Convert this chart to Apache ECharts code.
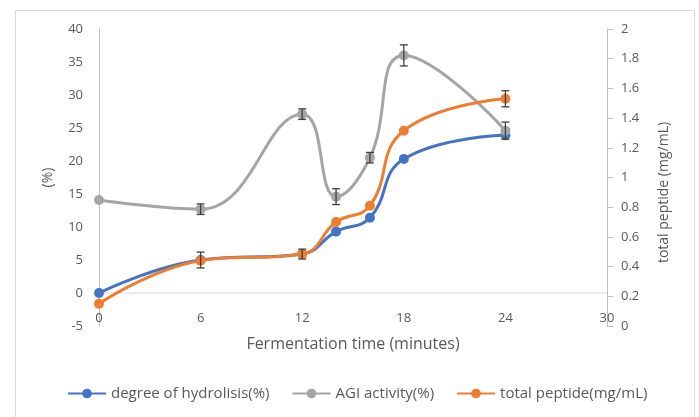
<!DOCTYPE html>
<html>
<head>
<meta charset="utf-8">
<script src="https://cdn.jsdelivr.net/npm/echarts@6/dist/echarts.min.js"></script>
<style>
html,body{margin:0;padding:0;background:#fff;}
#chart{width:699px;height:417px;}
</style>
</head>
<body>
<div id="chart"></div>
<script>
// ---- data ----
var time = [0, 6, 12, 14, 16, 18, 24];
var hydrolysis = [0, 5.0, 5.9, 9.3, 11.4, 20.3, 23.9];
var agi = [14.1, 12.7, 27.1, 14.6, 20.5, 36.0, 24.6];
var peptide = [0.15, 0.44, 0.485, 0.70, 0.81, 1.315, 1.53];
var hydrolysisErr = [0, 1.2, 0.75, 0, 0, 0, 0];
var agiErr = [0, 0.8, 0.8, 1.2, 0.8, 1.6, 1.3];
var peptideErr = [0, 0, 0, 0, 0, 0, 0.054];
var xTicks = [0, 6, 12, 18, 24, 30];
var zeroLine = [[0, 0], [30, 0]];
var seriesNames = ['degree of hydrolisis(%)', 'AGI activity(%)', 'total peptide(mg/mL)'];

var FONT = 'Open Sans';
var TXT = '#595959';

function pairs(xs, ys) { return xs.map(function (x, i) { return [x, ys[i]]; }); }
function errData(xs, ys, es) {
  var out = [];
  xs.forEach(function (x, i) { if (es[i] > 0) out.push([x, ys[i], es[i]]); });
  return out;
}
function errSeries(data, yIdx) {
  return {
    type: 'custom', yAxisIndex: yIdx, z: 10, silent: true,
    data: data,
    renderItem: function (params, api) {
      var x = api.value(0), y = api.value(1), e = api.value(2);
      var top = api.coord([x, y + e]);
      var bot = api.coord([x, y - e]);
      var w = 4;
      var st = { stroke: '#404040', lineWidth: 1.3 };
      return {
        type: 'group',
        children: [
          { type: 'line', shape: { x1: top[0], y1: top[1], x2: bot[0], y2: bot[1] }, style: st },
          { type: 'line', shape: { x1: top[0] - w, y1: top[1], x2: top[0] + w, y2: top[1] }, style: st },
          { type: 'line', shape: { x1: bot[0] - w, y1: bot[1], x2: bot[0] + w, y2: bot[1] }, style: st }
        ]
      };
    }
  };
}
function lineSeries(name, data, color, yIdx, z) {
  return {
    name: name, type: 'line', yAxisIndex: yIdx, data: data, smooth: 0.45,
    symbol: 'circle', symbolSize: 10, z: z,
    lineStyle: { color: color, width: 3 },
    itemStyle: { color: color },
    emphasis: { disabled: true }
  };
}

var chart = echarts.init(document.getElementById('chart'), null, { renderer: 'canvas' });
chart.setOption({
  backgroundColor: '#fff',
  animation: false,
  textStyle: { fontFamily: FONT },
  graphic: [{
    type: 'rect', left: 13, top: 8, shape: { width: 679, height: 430 },
    style: { fill: 'none', stroke: '#d9d9d9', lineWidth: 1 }, z: -1
  }],
  grid: { left: 99, right: 92, top: 29, bottom: 91 },
  legend: {
    left: 62, top: 381, itemWidth: 38, itemHeight: 12, itemGap: 22,
    textStyle: { color: TXT, fontSize: 15, fontFamily: FONT },
    data: seriesNames
  },
  xAxis: {
    type: 'value', min: 0, max: 30, interval: 6,
    name: 'Fermentation time (minutes)', nameLocation: 'middle', nameGap: 10,
    nameTextStyle: { color: TXT, fontSize: 16, fontFamily: FONT },
    axisLine: { show: false, onZero: false },
    axisTick: { show: false },
    axisLabel: { color: TXT, fontSize: 13, margin: -14, fontFamily: FONT,
      formatter: function (v) { return xTicks.indexOf(v) >= 0 ? String(v) : ''; } },
    splitLine: { show: false }
  },
  yAxis: [{
    type: 'value', min: -5, max: 40, interval: 5,
    name: '(%)', nameLocation: 'middle', nameGap: 44, nameRotate: 90,
    nameTextStyle: { color: TXT, fontSize: 14, fontFamily: FONT },
    axisLine: { show: true, onZero: false, lineStyle: { color: '#bfbfbf', width: 1 } },
    axisTick: { show: false },
    axisLabel: { color: TXT, fontSize: 13, margin: 16, fontFamily: FONT },
    splitLine: { show: false }
  }, {
    type: 'value', min: 0, max: 2, interval: 0.2, position: 'right',
    name: 'total peptide (mg/mL)', nameLocation: 'middle', nameGap: 50, nameRotate: 90,
    nameTextStyle: { color: TXT, fontSize: 14, fontFamily: FONT, padding: [0, 30, 0, 0] },
    axisLine: { show: true, onZero: false, lineStyle: { color: '#bfbfbf', width: 1 } },
    axisTick: { show: true, length: 6, inside: false, lineStyle: { color: '#bfbfbf' } },
    axisLabel: { color: TXT, fontSize: 13, margin: 14, fontFamily: FONT },
    splitLine: { show: false }
  }],
  series: [
    {
      type: 'line', yAxisIndex: 0, data: zeroLine, symbol: 'none', silent: true, z: 1,
      lineStyle: { color: '#d9d9d9', width: 1 }, emphasis: { disabled: true }
    },
    lineSeries(seriesNames[0], pairs(time, hydrolysis), '#4472C4', 0, 3),
    lineSeries(seriesNames[1], pairs(time, agi), '#A5A5A5', 0, 4),
    lineSeries(seriesNames[2], pairs(time, peptide), '#ED7D31', 1, 5),
    errSeries(errData(time, hydrolysis, hydrolysisErr), 0),
    errSeries(errData(time, agi, agiErr), 0),
    errSeries(errData(time, peptide, peptideErr), 1)
  ]
});
</script>
</body>
</html>
